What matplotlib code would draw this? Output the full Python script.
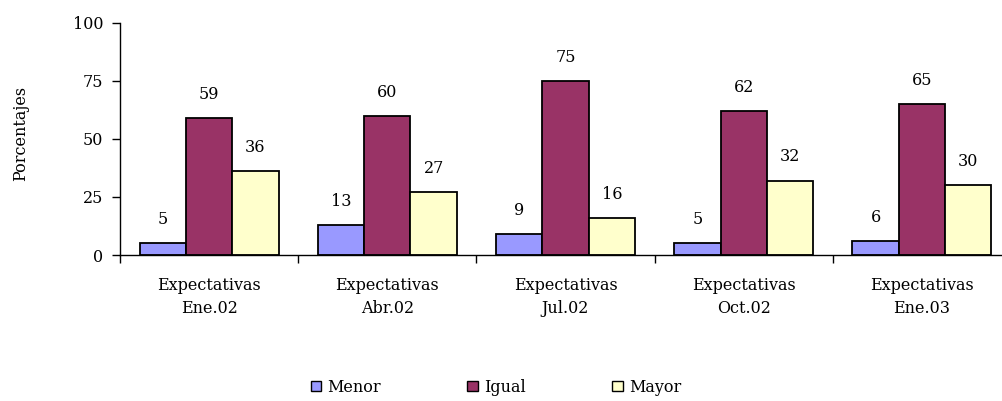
import numpy as np
import matplotlib
matplotlib.use('Agg')
import matplotlib.pyplot as plt
from matplotlib.patches import Patch

# data
categories = ['Expectativas\nEne.02', 'Expectativas\nAbr.02', 'Expectativas\nJul.02',
              'Expectativas\nOct.02', 'Expectativas\nEne.03']
series_names = ['Menor', 'Igual', 'Mayor']
menor = [5, 13, 9, 5, 6]
igual = [59, 60, 75, 62, 65]
mayor = [36, 27, 16, 32, 30]
yticks = [0, 25, 50, 75, 100]

colors = ['#9999FF', '#993366', '#FFFFCC']

plt.rcParams['font.family'] = ['DejaVu Serif']
fs = 11.5

fig = plt.figure(figsize=(10.02, 4.01), dpi=100)
# axes runs slightly past the right edge of the image, like the original
ax = fig.add_axes([120/1002, 146/401, 891/1002, 232/401])

x = np.arange(len(categories))
w = 0.26
for i, (vals, c) in enumerate(zip([menor, igual, mayor], colors)):
    pos = x + (i - 1) * w
    bars = ax.bar(pos, vals, width=w, color=c, edgecolor='black', linewidth=1.3)
    for b, v in zip(bars, vals):
        ax.annotate(str(v), (b.get_x() + b.get_width() / 2, v),
                    xytext=(0, 11), textcoords='offset points',
                    ha='center', va='bottom', fontsize=fs)

ax.set_xlim(-0.5, len(categories) - 0.5)
ax.set_ylim(0, 100)
ax.set_yticks(yticks)
ax.tick_params(axis='y', direction='out', length=6, width=1, labelsize=fs, pad=6)

ax.set_xticks(x)
ax.set_xticklabels(categories, fontsize=fs, linespacing=1.45)
ax.set_xticks(np.arange(len(categories) + 1) - 0.5, minor=True)
ax.tick_params(axis='x', which='major', length=0, pad=16)
ax.tick_params(axis='x', which='minor', direction='out', length=6, width=1)

ax.spines['top'].set_visible(False)
ax.spines['right'].set_visible(False)
ax.spines['left'].set_linewidth(1)
ax.spines['bottom'].set_linewidth(1)

ax.set_ylabel('Porcentajes', fontsize=fs)
ax.yaxis.set_label_coords(-91/891, 0.526)

handles = [Patch(facecolor=c, edgecolor='black', linewidth=1) for c in colors]
fig.legend(handles, series_names, loc='center', bbox_to_anchor=(496/1002, 1 - 387/401),
           ncol=3, frameon=False, fontsize=fs, handlelength=0.65, handleheight=0.65,
           handletextpad=0.4, columnspacing=5.4)

fig.savefig('out.png', dpi=100)
